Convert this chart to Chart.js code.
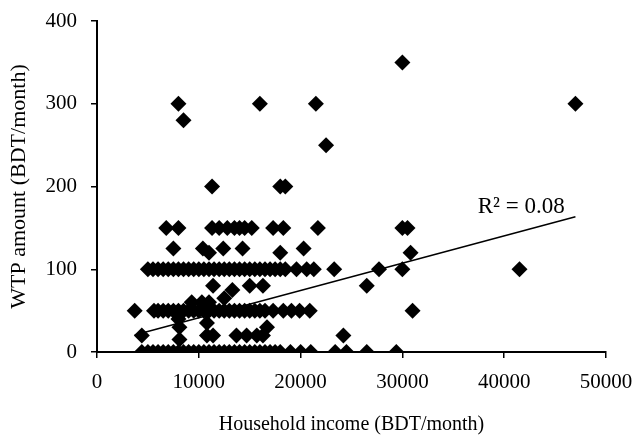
<!DOCTYPE html>
<html>
<head>
<meta charset="utf-8">
<title>WTP vs household income</title>
<script src="https://cdn.jsdelivr.net/npm/chart.js@4.4.0/dist/chart.umd.min.js"></script>
<style>
    html, body { margin: 0; padding: 0; background: #ffffff; }
    #wrap { width: 636px; height: 442px; position: relative; }
</style>
</head>
<body>
<div id="wrap"><canvas id="wtpChart"></canvas></div>
<script>
// Household incomes (BDT/month), grouped by the WTP amount they answered
const incomesAt0 = [4400, 5000, 5500, 6000, 6500, 7000, 7500, 8000, 8500, 9000, 9500, 10000,
    10500, 11000, 11500, 12000, 12500, 13000, 13500, 14000, 14500, 15000, 15500, 16000, 16500,
    17000, 17500, 18000, 19000, 20000, 21000, 23400, 24500, 26500, 29400];
const incomesAt50 = [3700, 5600, 6000, 6500, 7000, 7500, 8000, 8500, 9000, 9500, 10000, 10500,
    11000, 11500, 12000, 12500, 13000, 13500, 14000, 14500, 15000, 15500, 16000, 16500, 17300,
    18300, 19100, 19900, 20900, 31000];
const incomesAt100 = [5000, 5500, 6000, 6500, 7000, 7500, 8000, 8500, 9000, 9500, 10000, 10500,
    11000, 11500, 12000, 12500, 13000, 13500, 14000, 14500, 15000, 15500, 16000, 16500, 17000,
    17500, 18000, 18500, 19600, 20600, 21300, 23300, 27700, 30000, 41500];
const incomesAt150 = [6800, 8000, 11300, 12000, 12800, 13500, 14000, 14500, 15200, 17300, 18300,
    21700, 30000, 30500];

// Scattered answers that are not on the main rows
const otherIncomes = [4400, 8100, 8100, 8000, 10800, 10800, 11400, 13700, 14700, 15700, 16300,
    16700, 24200, 9300, 10300, 11000, 12500, 11400, 13300, 15000, 16300, 26500,
    7500, 10400, 11000, 12400, 14300, 18000, 20300, 30800,
    11300, 18000, 18500, 22500, 8500, 8000, 16000, 21500, 47000, 30000];
const otherWtp = [20, 15, 30, 40, 20, 35, 20, 20, 20, 20, 20,
    30, 20, 60, 60, 60, 65, 80, 75, 80, 80, 80,
    125, 125, 120, 125, 125, 120, 125, 120,
    200, 200, 200, 250, 280, 300, 300, 300, 300, 350];

// Linear trendline end points and its fit
const trendIncome = [3700, 47000];
const trendWtp = [20.5, 163.5];
const rSquaredText = 'R\u00b2 = 0.08';

// Axis ranges and tick steps
const xTicks = { min: 0, max: 50000, step: 10000 };
const yTicks = { min: 0, max: 400, step: 100 };

const serif = '"Liberation Serif", "Times New Roman", serif';

function buildPoints() {
    const points = [];
    const addRow = (incomes, wtp) => incomes.forEach(x => points.push({ x: x, y: wtp }));
    addRow(incomesAt0, 0);
    addRow(incomesAt50, 50);
    addRow(incomesAt100, 100);
    addRow(incomesAt150, 150);
    otherIncomes.forEach((x, i) => points.push({ x: x, y: otherWtp[i] }));
    return points;
}

// Draws the R² text next to the end of the trendline
const rSquaredLabel = {
    id: 'rSquaredLabel',
    afterDatasetsDraw(chart, args, opts) {
        const ctx = chart.ctx;
        const px = chart.scales.x.getPixelForValue(opts.x);
        const py = chart.scales.y.getPixelForValue(opts.y);
        ctx.save();
        ctx.font = opts.font;
        ctx.fillStyle = '#000000';
        ctx.textAlign = 'left';
        ctx.textBaseline = 'alphabetic';
        ctx.fillText(rSquaredText, px, py);
        ctx.restore();
    }
};

function initializeChart() {
    const ctx = document.getElementById('wtpChart').getContext('2d');

    new Chart(ctx, {
        type: 'scatter',
        data: {
            datasets: [{
                // trendline first so it is drawn on top of the markers
                type: 'line',
                data: trendIncome.map((x, i) => ({ x: x, y: trendWtp[i] })),
                borderColor: '#000000',
                borderWidth: 1.5,
                pointRadius: 0,
                fill: false
            }, {
                data: buildPoints(),
                pointStyle: 'rectRot',
                pointRadius: 8,
                borderWidth: 0,
                backgroundColor: '#000000',
                borderColor: '#000000'
            }]
        },
        options: {
            responsive: true,
            maintainAspectRatio: false,
            animation: false,
            events: [],
            layout: {
                padding: { top: 21, right: 30, bottom: 0, left: 0 }
            },
            scales: {
                x: {
                    type: 'linear',
                    min: xTicks.min,
                    max: xTicks.max,
                    afterFit: scale => {
                        scale.height = 90;
                        // the 50000 label may hang into the right margin
                        scale.paddingLeft = 0;
                        scale.paddingRight = 0;
                    },
                    grid: { display: true, drawOnChartArea: false, drawTicks: true, tickLength: 6, color: '#000000', lineWidth: 1.5 },
                    border: { display: true, color: '#000000', width: 2 },
                    ticks: {
                        stepSize: xTicks.step,
                        color: '#000000',
                        padding: 12,
                        maxRotation: 0,
                        callback: value => String(value),
                        font: { family: serif, size: 21 }
                    },
                    title: {
                        display: true,
                        text: 'Household income (BDT/month)',
                        color: '#000000',
                        padding: { top: 0, bottom: 5 },
                        font: { family: serif, size: 20 }
                    }
                },
                y: {
                    type: 'linear',
                    min: yTicks.min,
                    max: yTicks.max,
                    afterFit: scale => {
                        scale.width = 97;
                        // keep the plot top at the layout padding
                        scale.paddingTop = 0;
                        scale.paddingBottom = 0;
                    },
                    grid: { display: true, drawOnChartArea: false, drawTicks: true, tickLength: 6, color: '#000000', lineWidth: 1.5 },
                    border: { display: true, color: '#000000', width: 2 },
                    ticks: {
                        stepSize: yTicks.step,
                        color: '#000000',
                        padding: 14,
                        callback: value => String(value),
                        font: { family: serif, size: 21 }
                    },
                    title: {
                        display: true,
                        text: 'WTP amount (BDT/month)',
                        color: '#000000',
                        padding: { top: 6, bottom: 0 },
                        font: { family: serif, size: 22 }
                    }
                }
            },
            plugins: {
                legend: { display: false },
                tooltip: { enabled: false },
                rSquaredLabel: { x: 37400, y: 168, font: '23px ' + serif }
            }
        },
        plugins: [rSquaredLabel]
    });
}

document.addEventListener('DOMContentLoaded', function() {
    initializeChart();
});
</script>
</body>
</html>
